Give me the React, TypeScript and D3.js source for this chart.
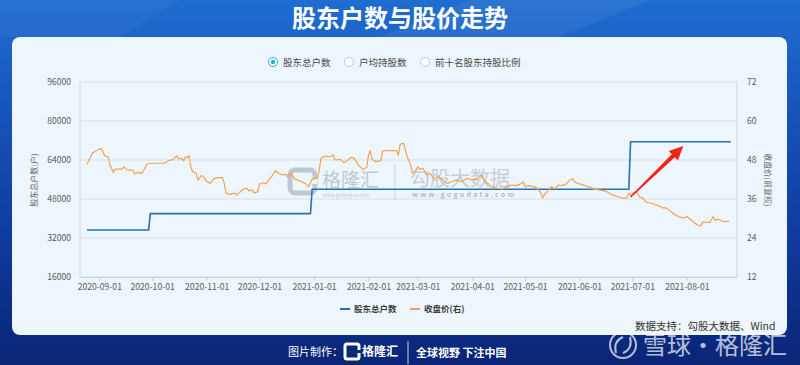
import React, { useEffect, useRef } from 'react';
import * as d3 from 'd3';

// shareholder count (steps at the reporting dates)
const holderDates = ['2020-08-25', '2020-09-29', '2020-09-30', '2020-12-30', '2020-12-31', '2021-06-29', '2021-06-30', '2021-08-26'];
const holderCounts = [35300, 35300, 42000, 42000, 52000, 52000, 71500, 71500];

// close price (right axis)
const priceDates = [
  '2020-08-25', '2020-08-28', '2020-08-30', '2020-08-31', '2020-09-02', '2020-09-03', '2020-09-04', '2020-09-06',
  '2020-09-07', '2020-09-09', '2020-09-10', '2020-09-14', '2020-09-15', '2020-09-17', '2020-09-20', '2020-09-21',
  '2020-09-23', '2020-09-25', '2020-09-26', '2020-09-28', '2020-09-30', '2020-10-08', '2020-10-10', '2020-10-13',
  '2020-10-15', '2020-10-16', '2020-10-18', '2020-10-19', '2020-10-20', '2020-10-21', '2020-10-22', '2020-10-23',
  '2020-10-24', '2020-10-26', '2020-10-27', '2020-10-29', '2020-10-30', '2020-11-01', '2020-11-03', '2020-11-05',
  '2020-11-07', '2020-11-10', '2020-11-11', '2020-11-12', '2020-11-14', '2020-11-17', '2020-11-18', '2020-11-20',
  '2020-11-22', '2020-11-24', '2020-11-25', '2020-11-27', '2020-11-28', '2020-11-30', '2020-12-01', '2020-12-03',
  '2020-12-05', '2020-12-06', '2020-12-08', '2020-12-10', '2020-12-12', '2020-12-14', '2020-12-16', '2020-12-17',
  '2020-12-19', '2020-12-21', '2020-12-23', '2020-12-25', '2020-12-27', '2020-12-29', '2020-12-31', '2021-01-03',
  '2021-01-04', '2021-01-05', '2021-01-07', '2021-01-10', '2021-01-12', '2021-01-13', '2021-01-16', '2021-01-18',
  '2021-01-20', '2021-01-22', '2021-01-24', '2021-01-26', '2021-01-29', '2021-01-31', '2021-02-01', '2021-02-02',
  '2021-02-03', '2021-02-05', '2021-02-08', '2021-02-09', '2021-02-10', '2021-02-17', '2021-02-18', '2021-02-19',
  '2021-02-21', '2021-02-22', '2021-02-23', '2021-02-25', '2021-02-26', '2021-02-28', '2021-03-01', '2021-03-02',
  '2021-03-04', '2021-03-06', '2021-03-08', '2021-03-10', '2021-03-13', '2021-03-15', '2021-03-18', '2021-03-20',
  '2021-03-23', '2021-03-26', '2021-03-29', '2021-04-01', '2021-04-04', '2021-04-06', '2021-04-08', '2021-04-10',
  '2021-04-12', '2021-04-15', '2021-04-18', '2021-04-20', '2021-04-23', '2021-04-26', '2021-04-28', '2021-04-30',
  '2021-05-01', '2021-05-03', '2021-05-06', '2021-05-08', '2021-05-10', '2021-05-11', '2021-05-12', '2021-05-14',
  '2021-05-16', '2021-05-18', '2021-05-20', '2021-05-22', '2021-05-24', '2021-05-26', '2021-05-28', '2021-05-29',
  '2021-05-31', '2021-06-02', '2021-06-04', '2021-06-06', '2021-06-09', '2021-06-12', '2021-06-15', '2021-06-17',
  '2021-06-20', '2021-06-23', '2021-06-26', '2021-06-28', '2021-06-29', '2021-06-30', '2021-07-02', '2021-07-04',
  '2021-07-05', '2021-07-07', '2021-07-09', '2021-07-12', '2021-07-14', '2021-07-16', '2021-07-18', '2021-07-20',
  '2021-07-22', '2021-07-23', '2021-07-25', '2021-07-27', '2021-07-30', '2021-08-01', '2021-08-03', '2021-08-05',
  '2021-08-07', '2021-08-09', '2021-08-10', '2021-08-12', '2021-08-14', '2021-08-16', '2021-08-17', '2021-08-19',
  '2021-08-21', '2021-08-23', '2021-08-25',
];
const closePrices = [
  46.7, 50.1, 50.8, 51.1, 51.6, 50.6, 49.3, 49.0,
  46.5, 44.2, 45.2, 45.2, 45.9, 44.9, 44.9, 43.7,
  44.2, 43.9, 44.6, 46.7, 47.0, 47.0, 47.7, 48.2,
  49.3, 48.3, 48.5, 47.7, 49.0, 48.7, 49.3, 45.9,
  44.4, 43.9, 41.8, 43.2, 42.9, 41.5, 40.8, 42.2,
  42.6, 42.6, 40.8, 37.8, 37.4, 37.8, 37.2, 38.2,
  39.1, 39.3, 38.5, 38.8, 37.9, 38.2, 40.6, 41.0,
  40.6, 41.8, 42.9, 44.7, 43.9, 43.4, 43.6, 42.9,
  43.9, 42.1, 41.8, 41.3, 40.8, 39.8, 42.1, 42.4,
  44.9, 48.5, 49.2, 49.0, 49.5, 48.0, 48.2, 47.2,
  47.8, 48.8, 48.5, 46.5, 45.1, 45.8, 49.5, 50.9,
  48.2, 47.5, 47.8, 50.6, 50.9, 50.9, 49.5, 52.9,
  53.1, 51.1, 49.0, 46.5, 43.9, 44.9, 45.9, 45.2,
  45.4, 43.4, 43.9, 42.4, 42.9, 41.8, 40.8, 41.3,
  41.8, 41.3, 42.4, 41.8, 42.4, 43.4, 41.5, 40.8,
  39.8, 39.3, 39.1, 39.5, 40.3, 40.1, 40.5, 41.3,
  39.8, 40.1, 39.8, 39.3, 37.8, 36.3, 37.4, 38.5,
  39.8, 39.1, 40.3, 40.1, 40.5, 41.6, 42.3, 41.4,
  40.8, 40.5, 40.1, 39.8, 39.1, 38.8, 38.5, 38.1,
  37.2, 36.7, 36.2, 36.4, 37.8, 37.0, 38.2, 37.8,
  36.7, 36.2, 35.0, 34.7, 34.2, 33.9, 33.3, 33.3,
  32.6, 32.1, 31.3, 30.6, 30.1, 30.6, 29.8, 28.8,
  28.0, 27.8, 29.0, 28.8, 28.8, 30.6, 29.5, 29.8,
  29.2, 29.0, 29.2,
];

const monthTicks = [
  '2020-09-01', '2020-10-01', '2020-11-01', '2020-12-01', '2021-01-01', '2021-02-01',
  '2021-03-01', '2021-04-01', '2021-05-01', '2021-06-01', '2021-07-01', '2021-08-01',
];
const holderTicks = [16000, 32000, 48000, 64000, 80000, 96000];
const priceTicks = [12, 24, 36, 48, 60, 72];
const radioItems = ['股东总户数', '户均持股数', '前十名股东持股比例'];
const legendItems = ['股东总户数', '收盘价(右)'];

const FONT = '"Noto Sans CJK SC", "Noto Sans", sans-serif';
const BLUE = '#2a70ad';
const ORANGE = '#f2a250';

const W = 800, H = 365;
const plot = { left: 80, right: 737, top: 82, bottom: 277 };

export default function App() {
  const ref = useRef<SVGSVGElement>(null);

  useEffect(() => {
    const svg = d3.select(ref.current);
    svg.selectAll('*').remove();
    const parse = d3.timeParse('%Y-%m-%d');

    // background
    const defs = svg.append('defs');
    const bg = defs.append('linearGradient').attr('id', 'bg').attr('x1', 0).attr('y1', 0).attr('x2', 0).attr('y2', 1);
    bg.append('stop').attr('offset', 0).attr('stop-color', '#1f6dd0');
    bg.append('stop').attr('offset', 0.2).attr('stop-color', '#1a5cc2');
    bg.append('stop').attr('offset', 0.65).attr('stop-color', '#0f3a9e');
    bg.append('stop').attr('offset', 1).attr('stop-color', '#0a2576');
    svg.append('rect').attr('width', W).attr('height', H).attr('fill', 'url(#bg)');
    svg.append('path')
      .attr('d', 'M470,0 L650,0 L560,37 L380,37 Z')
      .attr('fill', '#ffffff').attr('opacity', 0.06);
    svg.append('path')
      .attr('d', 'M0,0 L180,0 L120,37 L0,37 Z')
      .attr('fill', '#ffffff').attr('opacity', 0.04);

    svg.append('text')
      .attr('x', W / 2).attr('y', 27)
      .attr('text-anchor', 'middle')
      .attr('font-family', FONT).attr('font-size', 24).attr('font-weight', 'bold')
      .attr('fill', '#ffffff')
      .text('股东户数与股价走势');

    // card
    svg.append('rect')
      .attr('x', 12).attr('y', 37).attr('width', 775).attr('height', 298).attr('rx', 8)
      .attr('fill', '#eef6fd');

    // radio legend
    const radioX = [273, 349, 425];
    radioItems.forEach((t, i) => {
      const g = svg.append('g').attr('transform', `translate(${radioX[i]},62)`);
      g.append('circle').attr('r', 4.5).attr('fill', '#ffffff')
        .attr('stroke', i === 0 ? '#29a9cf' : '#c4c9ce').attr('stroke-width', 1);
      if (i === 0) g.append('circle').attr('r', 2.2).attr('fill', '#29a9cf');
      g.append('text').attr('x', 10).attr('y', 3.5)
        .attr('font-family', FONT).attr('font-size', 9.5).attr('fill', '#4a4a4a')
        .text(t);
    });

    const x = d3.scaleTime()
      .domain([new Date(2020, 7, 21), new Date(2021, 7, 29, 12)])
      .range([plot.left, plot.right]);
    const yL = d3.scaleLinear().domain([16000, 96000]).range([plot.bottom, plot.top]);
    const yR = d3.scaleLinear().domain([12, 72]).range([plot.bottom, plot.top]);

    // grid + frame
    svg.append('g').selectAll('line').data(holderTicks).enter().append('line')
      .attr('x1', plot.left).attr('x2', plot.right)
      .attr('y1', d => yL(d)).attr('y2', d => yL(d))
      .attr('stroke', '#d6dfe8').attr('stroke-width', 1);
    [plot.left, plot.right].forEach(px => {
      svg.append('line').attr('x1', px).attr('x2', px).attr('y1', plot.top).attr('y2', plot.bottom)
        .attr('stroke', '#cdd8e3');
    });

    // axes
    const xAxis = svg.append('g')
      .attr('transform', `translate(0,${plot.bottom})`)
      .call(d3.axisBottom(x)
        .tickValues(monthTicks.map(d => parse(d) as Date))
        .tickFormat(d3.timeFormat('%Y-%m-%d') as any)
        .tickSize(4).tickSizeOuter(0).tickPadding(3));
    xAxis.select('.domain').attr('stroke', '#c3d1de');
    xAxis.selectAll('.tick line').attr('stroke', '#c3d1de');
    xAxis.selectAll('text').attr('fill', '#5a5a5a').attr('font-size', 8.6).attr('font-family', FONT);

    const lAxis = svg.append('g')
      .attr('transform', `translate(${plot.left},0)`)
      .call(d3.axisLeft(yL).tickValues(holderTicks).tickFormat(d3.format('d')).tickSize(0).tickPadding(9));
    lAxis.select('.domain').remove();
    lAxis.selectAll('text').attr('fill', '#5a5a5a').attr('font-size', 8.6).attr('font-family', FONT);

    const rAxis = svg.append('g')
      .attr('transform', `translate(${plot.right},0)`)
      .call(d3.axisRight(yR).tickValues(priceTicks).tickFormat(d3.format('d')).tickSize(0).tickPadding(10));
    rAxis.select('.domain').remove();
    rAxis.selectAll('text').attr('fill', '#5a5a5a').attr('font-size', 8.6).attr('font-family', FONT);

    svg.append('text')
      .attr('transform', 'translate(37,180) rotate(-90)')
      .attr('text-anchor', 'middle')
      .attr('font-family', FONT).attr('font-size', 8).attr('fill', '#666')
      .text('股东总户数(户)');
    svg.append('text')
      .attr('transform', 'translate(765,180) rotate(90)')
      .attr('text-anchor', 'middle')
      .attr('font-family', FONT).attr('font-size', 8).attr('fill', '#666')
      .text('收盘价(前复权)');

    // watermarks
    const wm = svg.append('g').attr('opacity', 0.55);
    wm.append('rect').attr('x', 290).attr('y', 170).attr('width', 25).attr('height', 23).attr('rx', 5)
      .attr('fill', 'none').attr('stroke', '#9aa3ad').attr('stroke-width', 5);
    wm.append('rect').attr('x', 302).attr('y', 179).attr('width', 15).attr('height', 5).attr('fill', '#eef6fd');
    wm.append('text').attr('x', 322).attr('y', 187)
      .attr('font-family', FONT).attr('font-size', 19).attr('fill', '#9aa3ad').text('格隆汇');
    wm.append('text').attr('x', 323).attr('y', 197)
      .attr('font-family', FONT).attr('font-size', 4.8).attr('fill', '#9aa3ad').text('www.gelonghui.com');
    wm.append('line').attr('x1', 395).attr('x2', 395).attr('y1', 164).attr('y2', 200)
      .attr('stroke', '#9aa3ad').attr('stroke-width', 0.8);
    wm.append('text').attr('x', 410).attr('y', 186)
      .attr('font-family', FONT).attr('font-size', 20).attr('fill', '#a4acb5').text('勾股大数据');
    wm.append('text').attr('x', 412).attr('y', 197)
      .attr('font-family', FONT).attr('font-size', 7).attr('letter-spacing', 2.2)
      .attr('font-weight', 'bold').attr('fill', '#7f8893').text('www.gogudata.com');

    // lines
    const holderLine = d3.line<number>()
      .x((d, i) => x(parse(holderDates[i]) as Date))
      .y(d => yL(d));
    svg.append('path').datum(holderCounts).attr('d', holderLine)
      .attr('fill', 'none').attr('stroke', BLUE).attr('stroke-width', 1.6);

    const priceLine = d3.line<number>()
      .x((d, i) => x(parse(priceDates[i]) as Date))
      .y(d => yR(d));
    svg.append('path').datum(closePrices).attr('d', priceLine)
      .attr('fill', 'none').attr('stroke', ORANGE).attr('stroke-width', 1.2).attr('stroke-linejoin', 'round');

    // red arrow annotation
    const tx = x(parse('2021-06-30') as Date), ty = yR(36.6);
    const hx = x(parse('2021-07-30') as Date), hy = yR(52.3);
    const dx = hx - tx, dy = hy - ty, len = Math.hypot(dx, dy);
    const ux = dx / len, uy = dy / len, nx = -uy, ny = ux;
    const headLen = 14, headW = 6.5;
    const bx = hx - ux * headLen, by = hy - uy * headLen;
    const arrow = [
      [tx + nx * 0.6, ty + ny * 0.6],
      [bx + nx * 2.2, by + ny * 2.2],
      [bx + nx * headW, by + ny * headW],
      [hx, hy],
      [bx - nx * headW, by - ny * headW],
      [bx - nx * 2.2, by - ny * 2.2],
      [tx - nx * 0.6, ty - ny * 0.6],
    ];
    svg.append('path').attr('d', 'M' + arrow.map(p => p.join(',')).join('L') + 'Z').attr('fill', '#f2241a');

    // bottom legend
    const legX = [340, 410];
    const legColors = [BLUE, ORANGE];
    legendItems.forEach((t, i) => {
      svg.append('line').attr('x1', legX[i]).attr('x2', legX[i] + 10).attr('y1', 309).attr('y2', 309)
        .attr('stroke', legColors[i]).attr('stroke-width', 2);
      svg.append('text').attr('x', legX[i] + 14).attr('y', 312)
        .attr('font-family', FONT).attr('font-size', 8.5).attr('font-weight', 'bold').attr('fill', '#3a3a3a')
        .text(t);
    });

    svg.append('text').attr('x', 635).attr('y', 330)
      .attr('font-family', FONT).attr('font-size', 10.5).attr('fill', '#333')
      .text('数据支持：勾股大数据、Wind');

    // footer
    svg.append('text').attr('x', 288).attr('y', 356)
      .attr('font-family', FONT).attr('font-size', 11).attr('fill', '#ffffff').text('图片制作：');
    svg.append('rect').attr('x', 345).attr('y', 344).attr('width', 14).attr('height', 15).attr('rx', 2)
      .attr('fill', 'none').attr('stroke', '#ffffff').attr('stroke-width', 3);
    svg.append('rect').attr('x', 352).attr('y', 350).attr('width', 9).attr('height', 3).attr('fill', '#0b2a80');
    svg.append('text').attr('x', 362).attr('y', 356)
      .attr('font-family', FONT).attr('font-size', 12).attr('font-weight', 'bold').attr('fill', '#ffffff').text('格隆汇');
    svg.append('line').attr('x1', 408).attr('x2', 408).attr('y1', 341).attr('y2', 364)
      .attr('stroke', '#ffffff').attr('stroke-width', 0.8);
    svg.append('text').attr('x', 416).attr('y', 357)
      .attr('font-family', FONT).attr('font-size', 11).attr('font-weight', 'bold').attr('fill', '#ffffff').text('全球视野 下注中国');

    // snowball watermark
    const sb = svg.append('g').attr('opacity', 0.7);
    sb.append('circle').attr('cx', 623).attr('cy', 345).attr('r', 13)
      .attr('fill', 'none').attr('stroke', '#ffffff').attr('stroke-width', 2);
    sb.append('path').attr('d', 'M616,353 Q613,341 623,337 M630,337 Q633,349 623,353')
      .attr('fill', 'none').attr('stroke', '#ffffff').attr('stroke-width', 2);
    sb.append('text').attr('x', 643).attr('y', 354)
      .attr('font-family', FONT).attr('font-size', 24).attr('fill', '#ffffff').text('雪球·格隆汇');
  }, []);

  return (
    <svg ref={ref} width={W} height={H}
      style={{ position: 'absolute', left: 0, top: 0, display: 'block' }} />
  );
}
